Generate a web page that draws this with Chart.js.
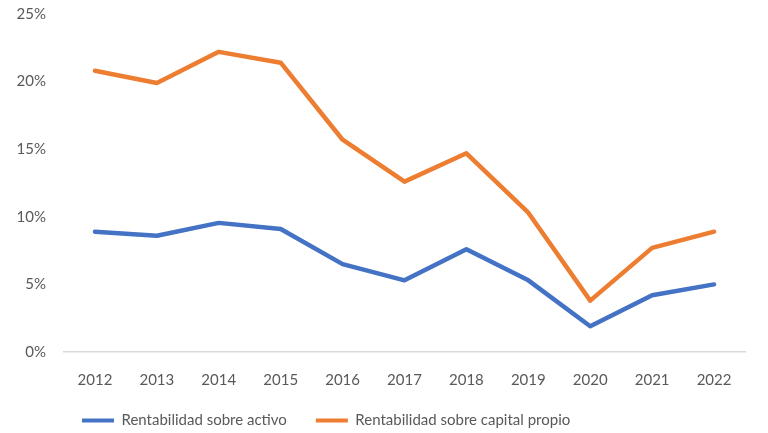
<!DOCTYPE html>
<html>
<head>
<meta charset="utf-8">
<script src="https://cdn.jsdelivr.net/npm/chart.js@4"></script>
<style>
  html, body { margin: 0; padding: 0; background: #fff; }
  #wrap { width: 768px; height: 433px; }
</style>
</head>
<body>
<div id="wrap"><canvas id="rentChart"></canvas></div>
<script>
// Chart data
const years = ["2012", "2013", "2014", "2015", "2016", "2017", "2018", "2019", "2020", "2021", "2022"];
const activo = [8.9, 8.6, 9.55, 9.1, 6.5, 5.3, 7.6, 5.3, 1.9, 4.2, 5.0];
const capitalPropio = [20.8, 19.9, 22.2, 21.4, 15.7, 12.6, 14.7, 10.3, 3.8, 7.7, 8.9];
const yTicks = [0, 5, 10, 15, 20, 25];

const font = "Lato, 'Liberation Sans', sans-serif";
const fontSize = 15;
const textColor = "#595959";

// Move the legend to sit where Excel put it
const legendShift = {
  id: "legendShift",
  afterLayout(chart) {
    const lg = chart.legend;
    if (!lg) return;
    const dx = 82 - (lg.left + lg.options.labels.padding);
    lg.left += dx;
    lg.right += dx;
    // only raise the top so descenders are not clipped
    lg.top -= 6;
  }
};

new Chart(document.getElementById("rentChart"), {
  type: "line",
  data: {
    labels: years,
    datasets: [
      {
        label: "Rentabilidad sobre activo",
        data: activo,
        borderColor: "#4472C4",
        backgroundColor: "#4472C4",
        borderWidth: 4.5,
        pointRadius: 0,
        borderCapStyle: "round",
        borderJoinStyle: "round",
        tension: 0
      },
      {
        label: "Rentabilidad sobre capital propio",
        data: capitalPropio,
        borderColor: "#ED7D31",
        backgroundColor: "#ED7D31",
        borderWidth: 4.5,
        pointRadius: 0,
        borderCapStyle: "round",
        borderJoinStyle: "round",
        tension: 0
      }
    ]
  },
  options: {
    responsive: true,
    maintainAspectRatio: false,
    animation: false,
    layout: { padding: { left: 0, right: 23, top: 14, bottom: 0 } },
    plugins: {
      tooltip: { enabled: false },
      legend: {
        position: "bottom",
        align: "start",
        maxHeight: 43,
        labels: {
          color: textColor,
          font: { family: font, size: fontSize },
          boxWidth: 32,
          boxHeight: 4,
          padding: 29,
          generateLabels(chart) {
            const items = Chart.defaults.plugins.legend.labels.generateLabels(chart);
            items.forEach(it => { it.lineWidth = 0; });
            return items;
          }
        }
      }
    },
    scales: {
      x: {
        offset: true,
        grid: { display: false, drawTicks: false },
        border: { display: true, color: "#d9d9d9", width: 1.5 },
        ticks: { color: textColor, font: { family: font, size: fontSize }, padding: 19, maxRotation: 0 },
        afterFit(scale) { scale.height = 38; }
      },
      y: {
        min: 0,
        max: 25,
        afterBuildTicks(scale) { scale.ticks = yTicks.map(v => ({ value: v })); },
        // tick marks hidden, their length only makes the gap before the labels
        grid: { display: false, drawTicks: true, tickLength: 18 },
        border: { display: false },
        ticks: {
          color: textColor,
          font: { family: font, size: fontSize },
          padding: 0,
          callback: v => v + "%"
        },
        afterFit(scale) { scale.width = 64; }
      }
    }
  },
  plugins: [legendShift]
});
</script>
</body>
</html>
